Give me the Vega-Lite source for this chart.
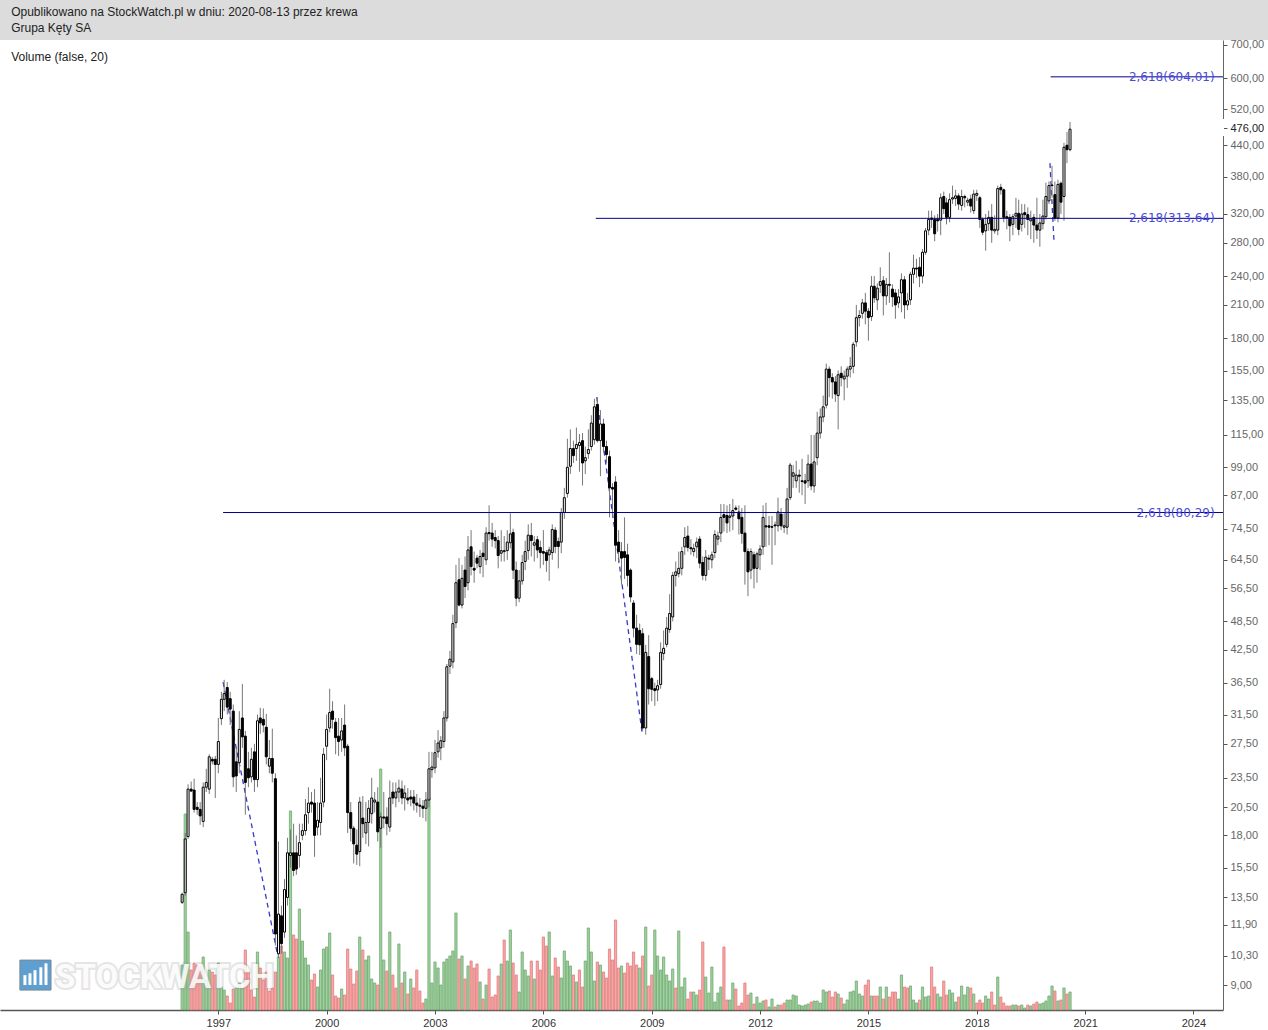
{"$schema":"https://vega.github.io/schema/vega-lite/v6.json","autosize":"none","width":1223,"height":970,"padding":{"left":0,"top":40,"right":45,"bottom":20},"background":"#ffffff","config":{"view":{"stroke":null},"font":"Liberation Sans"},
"data":{"format":{"parse":{"d":"date"}},"values":[
{"d":"1996-01-01","o":13.2,"h":13.8,"l":13.1,"c":13.7,"v":45,"k":"u"},{"d":"1996-02-01","o":13.8,"h":18.2,"l":13.6,"c":17.7,"v":196,"k":"u"},{"d":"1996-03-01","o":17.9,"h":22.8,"l":17.7,"c":22.3,"v":78,"k":"u"},{"d":"1996-04-01","o":22.3,"h":23.1,"l":22,"c":22.1,"v":40,"k":"d"},{"d":"1996-05-01","o":22.2,"h":23.4,"l":20,"c":20.3,"v":47,"k":"d"},{"d":"1996-06-01","o":20.5,"h":21,"l":19.8,"c":20.3,"v":45,"k":"d"},{"d":"1996-07-01","o":20.3,"h":21,"l":18.9,"c":19.7,"v":43,"k":"d"},{"d":"1996-08-01","o":19.2,"h":23,"l":18.7,"c":22.5,"v":53,"k":"u"},{"d":"1996-09-01","o":22.5,"h":24.5,"l":22,"c":23,"v":30,"k":"u"},{"d":"1996-10-01","o":22.3,"h":26.2,"l":21.8,"c":25.9,"v":40,"k":"u"},{"d":"1996-11-01","o":25.6,"h":25.9,"l":25,"c":25.4,"v":38,"k":"d"},{"d":"1996-12-01","o":25.6,"h":26,"l":21.4,"c":25,"v":35,"k":"d"},
{"d":"1997-01-01","o":25,"h":31,"l":24,"c":27.8,"v":47,"k":"u"},{"d":"1997-02-01","o":30.9,"h":35,"l":30,"c":33.8,"v":23,"k":"u"},{"d":"1997-03-01","o":33.8,"h":37,"l":32,"c":34.7,"v":20,"k":"u"},{"d":"1997-04-01","o":35.7,"h":36.6,"l":31.5,"c":32.6,"v":14,"k":"d"},{"d":"1997-05-01","o":33.9,"h":35,"l":30,"c":32.3,"v":7,"k":"d"},{"d":"1997-06-01","o":32,"h":33,"l":22.5,"c":23.6,"v":21,"k":"d"},{"d":"1997-07-01","o":25.3,"h":27,"l":22,"c":23.7,"v":22,"k":"u"},{"d":"1997-08-01","o":25.2,"h":32,"l":24,"c":29.4,"v":27,"k":"u"},{"d":"1997-09-01","o":31,"h":36.3,"l":27,"c":28.4,"v":22,"k":"u"},{"d":"1997-10-01","o":28.5,"h":29.2,"l":19.8,"c":23,"v":60,"k":"d"},{"d":"1997-11-01","o":24.5,"h":26.5,"l":22.5,"c":23.5,"v":38,"k":"d"},{"d":"1997-12-01","o":23.6,"h":27,"l":23,"c":25.6,"v":20,"k":"d"},
{"d":"1998-01-01","o":26.5,"h":27.5,"l":22,"c":23.3,"v":13,"k":"d"},{"d":"1998-02-01","o":23.3,"h":31.5,"l":22.5,"c":30.6,"v":58,"k":"u"},{"d":"1998-03-01","o":31,"h":32.5,"l":28.8,"c":30.3,"v":42,"k":"d"},{"d":"1998-04-01","o":30.8,"h":32.4,"l":29,"c":30,"v":30,"k":"d"},{"d":"1998-05-01","o":29.7,"h":31.6,"l":25,"c":25.9,"v":38,"k":"d"},{"d":"1998-06-01","o":24.8,"h":28,"l":24,"c":25.7,"v":19,"k":"d"},{"d":"1998-07-01","o":25.7,"h":29.5,"l":23,"c":24,"v":22,"k":"d"},{"d":"1998-08-01","o":23.4,"h":24,"l":10.8,"c":11.4,"v":38,"k":"d"},{"d":"1998-09-01","o":10.4,"h":17.5,"l":10.2,"c":12.5,"v":53,"k":"u"},{"d":"1998-10-01","o":12.4,"h":13,"l":10.4,"c":10.9,"v":64,"k":"d"},{"d":"1998-11-01","o":11.5,"h":14.7,"l":11.2,"c":14,"v":58,"k":"u"},{"d":"1998-12-01","o":13.5,"h":17.8,"l":13,"c":16.6,"v":52,"k":"u"},
{"d":"1999-01-01","o":16.4,"h":18.5,"l":15.5,"c":16.6,"v":199,"k":"u"},{"d":"1999-02-01","o":16.6,"h":19,"l":14.9,"c":15.3,"v":75,"k":"d"},{"d":"1999-03-01","o":16.6,"h":18,"l":15,"c":15.4,"v":71,"k":"d"},{"d":"1999-04-01","o":16.4,"h":19,"l":15.5,"c":17.4,"v":101,"k":"u"},{"d":"1999-05-01","o":18,"h":19,"l":17.6,"c":18.4,"v":69,"k":"u"},{"d":"1999-06-01","o":18.4,"h":21.3,"l":18,"c":19.8,"v":52,"k":"u"},{"d":"1999-07-01","o":20,"h":22.5,"l":19,"c":20.9,"v":45,"k":"u"},{"d":"1999-08-01","o":21,"h":22,"l":20,"c":20.8,"v":30,"k":"d"},{"d":"1999-09-01","o":20.9,"h":22.3,"l":16.3,"c":18,"v":36,"k":"d"},{"d":"1999-10-01","o":18.7,"h":21,"l":18,"c":19.3,"v":23,"k":"u"},{"d":"1999-11-01","o":19.1,"h":23.5,"l":18,"c":20.9,"v":40,"k":"u"},{"d":"1999-12-01","o":21,"h":27,"l":20.5,"c":26.2,"v":61,"k":"u"},
{"d":"2000-01-01","o":27.2,"h":31.5,"l":25.5,"c":29.4,"v":63,"k":"u"},{"d":"2000-02-01","o":29.6,"h":35.5,"l":29,"c":31.8,"v":77,"k":"u"},{"d":"2000-03-01","o":32,"h":33.5,"l":29.5,"c":30.8,"v":35,"k":"d"},{"d":"2000-04-01","o":30.4,"h":31,"l":26.2,"c":28.3,"v":14,"k":"d"},{"d":"2000-05-01","o":28.5,"h":31,"l":26,"c":27.8,"v":12,"k":"d"},{"d":"2000-06-01","o":28,"h":31,"l":26.5,"c":29.2,"v":21,"k":"u"},{"d":"2000-07-01","o":30,"h":33,"l":26,"c":27,"v":15,"k":"d"},{"d":"2000-08-01","o":27.2,"h":27.5,"l":18.2,"c":20,"v":61,"k":"d"},{"d":"2000-09-01","o":20,"h":21,"l":17.5,"c":18.6,"v":41,"k":"d"},{"d":"2000-10-01","o":18.6,"h":18.8,"l":15.8,"c":17.3,"v":26,"k":"d"},{"d":"2000-11-01","o":17.2,"h":18.5,"l":15.7,"c":16.5,"v":39,"k":"d"},{"d":"2000-12-01","o":16.7,"h":21.5,"l":15.6,"c":21,"v":73,"k":"u"},
{"d":"2001-01-01","o":19.5,"h":21.6,"l":17.8,"c":19,"v":60,"k":"d"},{"d":"2001-02-01","o":18.2,"h":21,"l":17.3,"c":19.1,"v":50,"k":"u"},{"d":"2001-03-01","o":19.1,"h":21.2,"l":17.1,"c":20.4,"v":54,"k":"u"},{"d":"2001-04-01","o":19.9,"h":23.5,"l":19,"c":21.4,"v":31,"k":"u"},{"d":"2001-05-01","o":21,"h":22,"l":20,"c":21.2,"v":27,"k":"u"},{"d":"2001-06-01","o":21,"h":22.5,"l":17.5,"c":18.3,"v":25,"k":"d"},{"d":"2001-07-01","o":18.6,"h":20,"l":17,"c":19.6,"v":241,"k":"u"},{"d":"2001-08-01","o":19.6,"h":22,"l":18.6,"c":19.5,"v":50,"k":"u"},{"d":"2001-09-01","o":19.6,"h":20.5,"l":18,"c":19,"v":39,"k":"d"},{"d":"2001-10-01","o":18.7,"h":23.2,"l":18.3,"c":21.4,"v":78,"k":"u"},{"d":"2001-11-01","o":22,"h":23,"l":20.8,"c":21.4,"v":35,"k":"d"},{"d":"2001-12-01","o":21.4,"h":23,"l":20.5,"c":22,"v":22,"k":"d"},
{"d":"2002-01-01","o":22,"h":23.3,"l":21,"c":22.4,"v":66,"k":"u"},{"d":"2002-02-01","o":22.3,"h":23.2,"l":20.8,"c":21.4,"v":27,"k":"d"},{"d":"2002-03-01","o":21.4,"h":22.7,"l":20.2,"c":21.9,"v":38,"k":"u"},{"d":"2002-04-01","o":21.4,"h":22.4,"l":20.8,"c":21.2,"v":16,"k":"d"},{"d":"2002-05-01","o":21.5,"h":22.2,"l":20.6,"c":21.3,"v":31,"k":"u"},{"d":"2002-06-01","o":21.5,"h":22.2,"l":20.2,"c":20.9,"v":22,"k":"d"},{"d":"2002-07-01","o":20.9,"h":21.8,"l":20,"c":20.7,"v":40,"k":"d"},{"d":"2002-08-01","o":20.7,"h":21.4,"l":19.6,"c":20.6,"v":19,"k":"d"},{"d":"2002-09-01","o":20.6,"h":21.2,"l":19.5,"c":20.4,"v":7,"k":"d"},{"d":"2002-10-01","o":20.4,"h":22,"l":19.2,"c":21.2,"v":11,"k":"u"},{"d":"2002-11-01","o":21.2,"h":26.5,"l":20.5,"c":24.5,"v":212,"k":"u"},{"d":"2002-12-01","o":24.4,"h":26.5,"l":23.5,"c":24.7,"v":27,"k":"u"},
{"d":"2003-01-01","o":24.6,"h":28,"l":24,"c":26.4,"v":48,"k":"u"},{"d":"2003-02-01","o":26.5,"h":29.3,"l":25.8,"c":27.6,"v":42,"k":"u"},{"d":"2003-03-01","o":27,"h":28.5,"l":25.5,"c":27.9,"v":25,"k":"u"},{"d":"2003-04-01","o":27.8,"h":32,"l":27,"c":31,"v":48,"k":"u"},{"d":"2003-05-01","o":31,"h":39.8,"l":30.5,"c":39.3,"v":51,"k":"u"},{"d":"2003-06-01","o":39.4,"h":42.3,"l":38,"c":40.7,"v":54,"k":"u"},{"d":"2003-07-01","o":40.2,"h":50,"l":39,"c":48,"v":59,"k":"u"},{"d":"2003-08-01","o":48.2,"h":63,"l":47,"c":58,"v":97,"k":"u"},{"d":"2003-09-01","o":58.8,"h":65,"l":52,"c":52.3,"v":51,"k":"d"},{"d":"2003-10-01","o":52.3,"h":63,"l":51.5,"c":59.2,"v":54,"k":"u"},{"d":"2003-11-01","o":61.5,"h":65.5,"l":54,"c":57,"v":31,"k":"d"},{"d":"2003-12-01","o":58,"h":72,"l":56,"c":67.5,"v":44,"k":"u"},
{"d":"2004-01-01","o":68.5,"h":74,"l":60,"c":62.5,"v":49,"k":"d"},{"d":"2004-02-01","o":62,"h":67,"l":58,"c":61.5,"v":42,"k":"d"},{"d":"2004-03-01","o":65,"h":66,"l":62,"c":63.5,"v":46,"k":"d"},{"d":"2004-04-01","o":62.5,"h":67.5,"l":60.5,"c":65.5,"v":28,"k":"u"},{"d":"2004-05-01","o":66.5,"h":70,"l":59.5,"c":65.5,"v":11,"k":"d"},{"d":"2004-06-01","o":64.5,"h":75,"l":63,"c":73,"v":25,"k":"u"},{"d":"2004-07-01","o":73.2,"h":83,"l":70.5,"c":72.8,"v":41,"k":"d"},{"d":"2004-08-01","o":73,"h":76.5,"l":68.5,"c":71,"v":13,"k":"d"},{"d":"2004-09-01","o":71.5,"h":74,"l":68,"c":70.5,"v":15,"k":"d"},{"d":"2004-10-01","o":70.5,"h":72,"l":62,"c":65.8,"v":34,"k":"d"},{"d":"2004-11-01","o":66.5,"h":74,"l":64,"c":67.3,"v":46,"k":"u"},{"d":"2004-12-01","o":67,"h":72,"l":64,"c":67.3,"v":70,"k":"d"},
{"d":"2005-01-01","o":67.3,"h":74,"l":64.5,"c":70,"v":49,"k":"u"},{"d":"2005-02-01","o":69.8,"h":80,"l":68,"c":72.7,"v":80,"k":"u"},{"d":"2005-03-01","o":73.2,"h":74.5,"l":59,"c":61.5,"v":47,"k":"d"},{"d":"2005-04-01","o":61.5,"h":64,"l":52,"c":54,"v":35,"k":"d"},{"d":"2005-05-01","o":54,"h":61.5,"l":53,"c":58.5,"v":18,"k":"u"},{"d":"2005-06-01","o":58.5,"h":66,"l":57.5,"c":63.7,"v":58,"k":"u"},{"d":"2005-07-01","o":64,"h":70.5,"l":61.5,"c":67,"v":40,"k":"u"},{"d":"2005-08-01","o":67.3,"h":76,"l":64.5,"c":72.3,"v":34,"k":"u"},{"d":"2005-09-01","o":72.2,"h":76.5,"l":65.5,"c":70.5,"v":49,"k":"d"},{"d":"2005-10-01","o":69,"h":72,"l":64,"c":69.8,"v":31,"k":"u"},{"d":"2005-11-01","o":70.8,"h":72,"l":65,"c":67.5,"v":49,"k":"d"},{"d":"2005-12-01","o":68.3,"h":70.5,"l":62,"c":66.7,"v":40,"k":"d"},
{"d":"2006-01-01","o":67,"h":74,"l":63,"c":66.5,"v":73,"k":"d"},{"d":"2006-02-01","o":66.7,"h":67.5,"l":61,"c":64.3,"v":64,"k":"d"},{"d":"2006-03-01","o":66,"h":68.5,"l":58.5,"c":67.5,"v":78,"k":"u"},{"d":"2006-04-01","o":66.7,"h":76,"l":64.5,"c":74.2,"v":34,"k":"u"},{"d":"2006-05-01","o":74,"h":75,"l":66.5,"c":68.6,"v":52,"k":"d"},{"d":"2006-06-01","o":70.2,"h":71.5,"l":62,"c":68.6,"v":43,"k":"d"},{"d":"2006-07-01","o":70,"h":82,"l":66.5,"c":80.3,"v":32,"k":"u"},{"d":"2006-08-01","o":80.3,"h":90,"l":78,"c":86,"v":59,"k":"u"},{"d":"2006-09-01","o":87.7,"h":113,"l":86,"c":99,"v":49,"k":"u"},{"d":"2006-10-01","o":99.5,"h":118,"l":96,"c":108,"v":44,"k":"u"},{"d":"2006-11-01","o":108,"h":112,"l":101,"c":104.5,"v":35,"k":"d"},{"d":"2006-12-01","o":108,"h":119,"l":102,"c":110,"v":28,"k":"u"},
{"d":"2007-01-01","o":109.5,"h":115.5,"l":97,"c":111,"v":40,"k":"d"},{"d":"2007-02-01","o":112,"h":116,"l":91,"c":101,"v":23,"k":"d"},{"d":"2007-03-01","o":102,"h":109,"l":96,"c":103.5,"v":49,"k":"u"},{"d":"2007-04-01","o":105.5,"h":118,"l":103,"c":107.5,"v":82,"k":"u"},{"d":"2007-05-01","o":109,"h":126,"l":107,"c":121.5,"v":58,"k":"u"},{"d":"2007-06-01","o":112.5,"h":136,"l":110,"c":131,"v":29,"k":"u"},{"d":"2007-07-01","o":132.5,"h":137,"l":111,"c":112,"v":48,"k":"d"},{"d":"2007-08-01","o":112,"h":129,"l":95,"c":121,"v":45,"k":"u"},{"d":"2007-09-01","o":121,"h":124,"l":106,"c":109,"v":38,"k":"d"},{"d":"2007-10-01","o":109,"h":112,"l":101,"c":105,"v":32,"k":"d"},{"d":"2007-11-01","o":104,"h":107,"l":78.5,"c":90,"v":61,"k":"d"},{"d":"2007-12-01","o":90.2,"h":92,"l":78.5,"c":89.5,"v":50,"k":"d"},
{"d":"2008-01-01","o":92.5,"h":95,"l":64,"c":69,"v":90,"k":"d"},{"d":"2008-02-01","o":70,"h":74,"l":63.5,"c":67,"v":42,"k":"d"},{"d":"2008-03-01","o":67,"h":70,"l":57.5,"c":65,"v":44,"k":"u"},{"d":"2008-04-01","o":67,"h":78.5,"l":59,"c":65.2,"v":37,"k":"d"},{"d":"2008-05-01","o":66,"h":69.5,"l":57,"c":60,"v":47,"k":"d"},{"d":"2008-06-01","o":61.5,"h":62,"l":53,"c":54.3,"v":44,"k":"d"},{"d":"2008-07-01","o":52.8,"h":53.5,"l":45,"c":47,"v":58,"k":"d"},{"d":"2008-08-01","o":47,"h":50,"l":41.7,"c":43.6,"v":45,"k":"d"},{"d":"2008-09-01","o":46.5,"h":48,"l":41.5,"c":43.5,"v":42,"k":"u"},{"d":"2008-10-01","o":45.8,"h":47,"l":29.2,"c":29.6,"v":54,"k":"d"},{"d":"2008-11-01","o":29.6,"h":43.5,"l":28.7,"c":42,"v":83,"k":"u"},{"d":"2008-12-01","o":41.2,"h":45.5,"l":33,"c":35.5,"v":24,"k":"d"},
{"d":"2009-01-01","o":37.2,"h":37.5,"l":33.5,"c":35.4,"v":35,"k":"d"},{"d":"2009-02-01","o":35.5,"h":36.5,"l":32.8,"c":35.2,"v":80,"k":"u"},{"d":"2009-03-01","o":35.3,"h":37,"l":33.5,"c":36,"v":54,"k":"u"},{"d":"2009-04-01","o":36.2,"h":44,"l":35.5,"c":42,"v":40,"k":"u"},{"d":"2009-05-01","o":41.8,"h":46.5,"l":40.5,"c":42.8,"v":53,"k":"u"},{"d":"2009-06-01","o":43.6,"h":49.5,"l":43,"c":47,"v":35,"k":"u"},{"d":"2009-07-01","o":46.7,"h":55,"l":46,"c":50.3,"v":29,"k":"u"},{"d":"2009-08-01","o":49.5,"h":61,"l":48.5,"c":60,"v":41,"k":"u"},{"d":"2009-09-01","o":60,"h":64,"l":57,"c":61,"v":22,"k":"d"},{"d":"2009-10-01","o":60.5,"h":67,"l":59.5,"c":62,"v":79,"k":"u"},{"d":"2009-11-01","o":62,"h":68.5,"l":60,"c":67,"v":23,"k":"u"},{"d":"2009-12-01","o":68.5,"h":75,"l":66,"c":71.5,"v":32,"k":"u"},
{"d":"2010-01-01","o":72,"h":75.5,"l":67,"c":68.3,"v":11,"k":"d"},{"d":"2010-02-01","o":68.2,"h":71,"l":66,"c":67.9,"v":18,"k":"d"},{"d":"2010-03-01","o":67,"h":69.5,"l":65.5,"c":68,"v":18,"k":"u"},{"d":"2010-04-01","o":68.5,"h":71.5,"l":65,"c":70,"v":15,"k":"u"},{"d":"2010-05-01","o":71,"h":72,"l":62,"c":63.5,"v":20,"k":"d"},{"d":"2010-06-01","o":63.7,"h":65.5,"l":58.7,"c":60,"v":68,"k":"d"},{"d":"2010-07-01","o":60,"h":67.5,"l":58.5,"c":65.3,"v":33,"k":"u"},{"d":"2010-08-01","o":65,"h":66,"l":61.5,"c":64.7,"v":17,"k":"u"},{"d":"2010-09-01","o":64.5,"h":67,"l":62,"c":66,"v":43,"k":"u"},{"d":"2010-10-01","o":66.7,"h":74,"l":65,"c":72.5,"v":8,"k":"u"},{"d":"2010-11-01","o":71,"h":73.5,"l":69,"c":72,"v":17,"k":"u"},{"d":"2010-12-01","o":73,"h":83.5,"l":70,"c":78.5,"v":23,"k":"u"},
{"d":"2011-01-01","o":79.5,"h":83.5,"l":73.5,"c":78.5,"v":63,"k":"d"},{"d":"2011-02-01","o":79.2,"h":83,"l":73,"c":76.5,"v":10,"k":"d"},{"d":"2011-03-01","o":78.5,"h":83.5,"l":73.5,"c":79,"v":10,"k":"u"},{"d":"2011-04-01","o":79,"h":85.5,"l":74,"c":81,"v":27,"k":"u"},{"d":"2011-05-01","o":82,"h":83,"l":81,"c":81.5,"v":21,"k":"d"},{"d":"2011-06-01","o":80.5,"h":83,"l":72.5,"c":78,"v":4,"k":"d"},{"d":"2011-07-01","o":78.5,"h":82,"l":69.5,"c":72.9,"v":7,"k":"d"},{"d":"2011-08-01","o":73,"h":83,"l":57.5,"c":67,"v":27,"k":"d"},{"d":"2011-09-01","o":67,"h":68,"l":54.5,"c":61,"v":15,"k":"d"},{"d":"2011-10-01","o":61.5,"h":68,"l":59,"c":67,"v":17,"k":"u"},{"d":"2011-11-01","o":66,"h":67,"l":56.5,"c":62,"v":6,"k":"d"},{"d":"2011-12-01","o":62,"h":67,"l":58,"c":66.3,"v":13,"k":"u"},
{"d":"2012-01-01","o":66,"h":69,"l":61.5,"c":67.8,"v":7,"k":"u"},{"d":"2012-02-01","o":68.5,"h":83,"l":66,"c":78.5,"v":9,"k":"u"},{"d":"2012-03-01","o":75.5,"h":84,"l":68.5,"c":75.1,"v":10,"k":"d"},{"d":"2012-04-01","o":75.5,"h":79,"l":69,"c":75,"v":3,"k":"u"},{"d":"2012-05-01","o":75.2,"h":79,"l":63,"c":75,"v":11,"k":"u"},{"d":"2012-06-01","o":75.8,"h":77,"l":69,"c":75.5,"v":3,"k":"d"},{"d":"2012-07-01","o":75.5,"h":86,"l":73.5,"c":80.5,"v":5,"k":"u"},{"d":"2012-08-01","o":79.7,"h":82,"l":74,"c":75.5,"v":5,"k":"d"},{"d":"2012-09-01","o":75,"h":80,"l":73,"c":75.5,"v":7,"k":"d"},{"d":"2012-10-01","o":75,"h":90,"l":72.5,"c":85.5,"v":10,"k":"u"},{"d":"2012-11-01","o":86,"h":101,"l":85,"c":100,"v":10,"k":"u"},{"d":"2012-12-01","o":95,"h":100,"l":90,"c":96.5,"v":15,"k":"u"},
{"d":"2013-01-01","o":93,"h":102,"l":90,"c":95.5,"v":14,"k":"u"},{"d":"2013-02-01","o":95.5,"h":98,"l":88,"c":95,"v":5,"k":"u"},{"d":"2013-03-01","o":93,"h":103,"l":87,"c":92.7,"v":4,"k":"u"},{"d":"2013-04-01","o":93,"h":96,"l":83.5,"c":92,"v":5,"k":"u"},{"d":"2013-05-01","o":93,"h":105,"l":90,"c":100.5,"v":6,"k":"u"},{"d":"2013-06-01","o":100.5,"h":115,"l":89,"c":90.8,"v":8,"k":"d"},{"d":"2013-07-01","o":90.8,"h":115,"l":88,"c":101.5,"v":9,"k":"u"},{"d":"2013-08-01","o":103.5,"h":128,"l":100,"c":116,"v":9,"k":"u"},{"d":"2013-09-01","o":116,"h":130,"l":113,"c":125,"v":7,"k":"u"},{"d":"2013-10-01","o":125,"h":138,"l":122,"c":131,"v":20,"k":"u"},{"d":"2013-11-01","o":132,"h":160,"l":130,"c":156,"v":18,"k":"u"},{"d":"2013-12-01","o":156,"h":158,"l":137,"c":150,"v":19,"k":"d"},
{"d":"2014-01-01","o":150,"h":153,"l":136,"c":147,"v":13,"k":"d"},{"d":"2014-02-01","o":147,"h":151,"l":134,"c":139,"v":18,"k":"d"},{"d":"2014-03-01","o":138,"h":155,"l":118,"c":152,"v":16,"k":"u"},{"d":"2014-04-01","o":153,"h":158,"l":144,"c":150,"v":12,"k":"d"},{"d":"2014-05-01","o":149,"h":155,"l":135,"c":151,"v":6,"k":"u"},{"d":"2014-06-01","o":151,"h":158,"l":143,"c":156,"v":10,"k":"u"},{"d":"2014-07-01","o":156,"h":165,"l":150,"c":158,"v":18,"k":"u"},{"d":"2014-08-01","o":158,"h":177,"l":153,"c":175,"v":19,"k":"u"},{"d":"2014-09-01","o":177,"h":210,"l":173,"c":198,"v":29,"k":"u"},{"d":"2014-10-01","o":198,"h":205,"l":190,"c":200,"v":16,"k":"u"},{"d":"2014-11-01","o":202,"h":216,"l":197,"c":212,"v":14,"k":"u"},{"d":"2014-12-01","o":212,"h":222,"l":192,"c":204,"v":25,"k":"d"},
{"d":"2015-01-01","o":204,"h":207,"l":178,"c":198,"v":30,"k":"d"},{"d":"2015-02-01","o":199,"h":240,"l":195,"c":229,"v":14,"k":"u"},{"d":"2015-03-01","o":229,"h":240,"l":212,"c":217,"v":14,"k":"d"},{"d":"2015-04-01","o":215,"h":232,"l":205,"c":227,"v":14,"k":"d"},{"d":"2015-05-01","o":230,"h":250,"l":222,"c":234,"v":23,"k":"u"},{"d":"2015-06-01","o":235,"h":240,"l":200,"c":219,"v":11,"k":"d"},{"d":"2015-07-01","o":219,"h":238,"l":210,"c":231,"v":23,"k":"u"},{"d":"2015-08-01","o":231,"h":268,"l":212,"c":230,"v":13,"k":"d"},{"d":"2015-09-01","o":226,"h":231,"l":208,"c":218,"v":18,"k":"d"},{"d":"2015-10-01","o":222,"h":226,"l":197,"c":210,"v":18,"k":"d"},{"d":"2015-11-01","o":212,"h":226,"l":207,"c":218,"v":11,"k":"u"},{"d":"2015-12-01","o":222,"h":243,"l":203,"c":236,"v":35,"k":"u"},
{"d":"2016-01-01","o":236,"h":240,"l":197,"c":210,"v":23,"k":"d"},{"d":"2016-02-01","o":210,"h":222,"l":205,"c":214,"v":22,"k":"d"},{"d":"2016-03-01","o":215,"h":245,"l":210,"c":242,"v":24,"k":"u"},{"d":"2016-04-01","o":242,"h":265,"l":232,"c":249,"v":10,"k":"u"},{"d":"2016-05-01","o":249,"h":260,"l":238,"c":248,"v":7,"k":"u"},{"d":"2016-06-01","o":250,"h":262,"l":228,"c":240,"v":10,"k":"d"},{"d":"2016-07-01","o":240,"h":272,"l":232,"c":268,"v":23,"k":"u"},{"d":"2016-08-01","o":268,"h":300,"l":265,"c":296,"v":13,"k":"u"},{"d":"2016-09-01","o":297,"h":325,"l":290,"c":312,"v":14,"k":"u"},{"d":"2016-10-01","o":314,"h":325,"l":300,"c":312,"v":43,"k":"d"},{"d":"2016-11-01","o":312,"h":318,"l":282,"c":292,"v":23,"k":"d"},{"d":"2016-12-01","o":312,"h":320,"l":295,"c":310,"v":16,"k":"u"},
{"d":"2017-01-01","o":311,"h":352,"l":290,"c":345,"v":13,"k":"u"},{"d":"2017-02-01","o":347,"h":355,"l":320,"c":328,"v":29,"k":"d"},{"d":"2017-03-01","o":337,"h":345,"l":305,"c":315,"v":15,"k":"d"},{"d":"2017-04-01","o":315,"h":352,"l":308,"c":342,"v":20,"k":"u"},{"d":"2017-05-01","o":343,"h":365,"l":335,"c":345,"v":17,"k":"u"},{"d":"2017-06-01","o":344,"h":358,"l":332,"c":348,"v":8,"k":"u"},{"d":"2017-07-01","o":348,"h":352,"l":326,"c":335,"v":13,"k":"d"},{"d":"2017-08-01","o":333,"h":358,"l":325,"c":347,"v":24,"k":"u"},{"d":"2017-09-01","o":347,"h":350,"l":330,"c":345,"v":15,"k":"u"},{"d":"2017-10-01","o":338,"h":345,"l":332,"c":341,"v":23,"k":"u"},{"d":"2017-11-01","o":343,"h":350,"l":322,"c":332,"v":22,"k":"d"},{"d":"2017-12-01","o":325,"h":358,"l":320,"c":351,"v":16,"k":"u"},
{"d":"2018-01-01","o":349,"h":358,"l":340,"c":352,"v":7,"k":"d"},{"d":"2018-02-01","o":345,"h":348,"l":300,"c":312,"v":10,"k":"d"},{"d":"2018-03-01","o":312,"h":315,"l":290,"c":294,"v":7,"k":"d"},{"d":"2018-04-01","o":296,"h":320,"l":270,"c":305,"v":14,"k":"u"},{"d":"2018-05-01","o":306,"h":325,"l":296,"c":315,"v":11,"k":"u"},{"d":"2018-06-01","o":315,"h":335,"l":280,"c":297,"v":18,"k":"d"},{"d":"2018-07-01","o":296,"h":318,"l":292,"c":298,"v":5,"k":"d"},{"d":"2018-08-01","o":297,"h":365,"l":290,"c":360,"v":33,"k":"u"},{"d":"2018-09-01","o":362,"h":368,"l":350,"c":358,"v":13,"k":"d"},{"d":"2018-10-01","o":358,"h":360,"l":308,"c":315,"v":7,"k":"d"},{"d":"2018-11-01","o":316,"h":325,"l":298,"c":314,"v":4,"k":"d"},{"d":"2018-12-01","o":315,"h":320,"l":282,"c":303,"v":4,"k":"d"},
{"d":"2019-01-01","o":305,"h":320,"l":290,"c":316,"v":5,"k":"u"},{"d":"2019-02-01","o":317,"h":345,"l":300,"c":321,"v":5,"k":"u"},{"d":"2019-03-01","o":321,"h":342,"l":290,"c":298,"v":4,"k":"d"},{"d":"2019-04-01","o":305,"h":335,"l":295,"c":320,"v":5,"k":"u"},{"d":"2019-05-01","o":322,"h":335,"l":300,"c":319,"v":2,"k":"u"},{"d":"2019-06-01","o":319,"h":330,"l":290,"c":312,"v":5,"k":"d"},{"d":"2019-07-01","o":310,"h":325,"l":285,"c":313,"v":4,"k":"u"},{"d":"2019-08-01","o":315,"h":320,"l":280,"c":304,"v":6,"k":"d"},{"d":"2019-09-01","o":304,"h":345,"l":285,"c":297,"v":8,"k":"d"},{"d":"2019-10-01","o":297,"h":320,"l":275,"c":307,"v":6,"k":"u"},{"d":"2019-11-01","o":306,"h":342,"l":298,"c":317,"v":7,"k":"u"},{"d":"2019-12-01","o":316,"h":370,"l":312,"c":347,"v":9,"k":"u"},
{"d":"2020-01-01","o":340,"h":372,"l":335,"c":365,"v":14,"k":"u"},{"d":"2020-02-01","o":366,"h":400,"l":345,"c":365,"v":24,"k":"u"},{"d":"2020-03-01","o":350,"h":372,"l":310,"c":314,"v":19,"k":"d"},{"d":"2020-04-01","o":314,"h":375,"l":308,"c":367,"v":9,"k":"u"},{"d":"2020-05-01","o":369,"h":372,"l":320,"c":338,"v":10,"k":"d"},{"d":"2020-06-01","o":347,"h":445,"l":310,"c":436,"v":22,"k":"u"},{"d":"2020-07-01","o":440,"h":468,"l":405,"c":431,"v":16,"k":"d"},{"d":"2020-08-01","o":431,"h":490,"l":428,"c":474,"v":18,"k":"u"}
]},
"encoding":{"x":{"field":"d","type":"temporal","title":null,"scale":{"type":"utc","padding":0,"domain":[{"year":1990,"month":12,"date":16,"utc":true},{"year":2024,"month":10,"date":26,"utc":true}],"nice":false},"axis":{"values":[{"year":1997,"utc":true},{"year":2000,"utc":true},{"year":2003,"utc":true},{"year":2006,"utc":true},{"year":2009,"utc":true},{"year":2012,"utc":true},{"year":2015,"utc":true},{"year":2018,"utc":true},{"year":2021,"utc":true},{"year":2024,"utc":true}],"format":"%Y","grid":false,"labelFont":"Liberation Sans","labelFontSize":11,"labelColor":"#333333","labelPadding":3,"tickSize":4,"tickColor":"#555555","domainColor":"#555555","domainWidth":1.5,"labelOverlap":false,"labelFlush":false}}},
"layer":[
{"mark":{"type":"bar","size":2.2,"strokeWidth":0.8,"opacity":0.9},"encoding":{"y":{"field":"v","type":"quantitative","stack":null,"scale":{"domain":[0,970],"nice":false},"axis":null},"color":{"field":"k","type":"nominal","scale":{"domain":["u","d"],"range":["#93cf93","#ff9a9a"]},"legend":null},"stroke":{"field":"k","type":"nominal","scale":{"domain":["u","d"],"range":["#649f64","#d87474"]},"legend":null}}},
{"layer":[
{"data":{"format":{"parse":{"d":"date","d2":"date"}},"values":[{"d":"1990-12-16","d2":"2026-01-25","p":716.4,"p2":863}]},"mark":{"type":"rect","color":"#dcdcdc"},"encoding":{"x2":{"field":"d2"},"y":{"field":"p","type":"quantitative","scale":{"type":"log","domain":[8.016,716.4],"nice":false,"zero":false},"axis":{"orient":"right","title":null,"grid":false,"values":[700,600,520,476,440,380,320,280,240,210,180,155,135,115,99,87,74.5,64.5,56.5,48.5,42.5,36.5,31.5,27.5,23.5,20.5,18,15.5,13.5,11.9,10.3,9],"labelExpr":"replace(format(datum.value,'.2f'),'.',',')","labelFont":"Liberation Sans","labelFontSize":11,"labelColor":{"condition":{"test":"datum.value==476","value":"#222222"},"value":"#666666"},"labelPadding":3,"labelOverlap":false,"labelFlush":false,"tickSize":4,"tickColor":"#555555","domainColor":"#666666","domainWidth":1}},"y2":{"field":"p2"}}},
{"data":{"format":{"parse":{"d":"date"}},"values":[{"d":"1991-04-08","p":815.6,"t":"Opublikowano na StockWatch.pl w dniu: 2020-08-13 przez krewa"},{"d":"1991-04-08","p":757,"t":"Grupa Kęty SA"},{"d":"1991-04-08","p":662,"t":"Volume (false, 20)"}]},"mark":{"type":"text","align":"left","baseline":"middle","font":"Liberation Sans","fontSize":12,"color":"#222222"},"encoding":{"y":{"field":"p","type":"quantitative"},"text":{"field":"t"}}},
{"data":{"format":{"parse":{"d":"date"}},"values":[{"d":"1992-06-25","p":8.87,"t":"STOCKWATCH"}]},"mark":{"type":"text","align":"left","baseline":"alphabetic","font":"Roboto","fontWeight":"bold","fontSize":33,"color":"#999999","stroke":"#999999","strokeWidth":4,"opacity":0.25},"encoding":{"y":{"field":"p","type":"quantitative"},"text":{"field":"t"}}},
{"data":{"format":{"parse":{"d":"date"}},"values":[{"d":"1992-06-25","p":8.87,"t":"STOCKWATCH"}]},"mark":{"type":"text","align":"left","baseline":"alphabetic","font":"Roboto","fontWeight":"bold","fontSize":33,"color":"#ffffff","opacity":0.85},"encoding":{"y":{"field":"p","type":"quantitative"},"text":{"field":"t"}}},
{"data":{"format":{"parse":{"d":"date","d2":"date"}},"values":[{"d":"1991-07-05","d2":"1992-05-15","p":8.79,"p2":10.1}]},"mark":{"type":"rect","color":"#5f9fd0","stroke":"#7a8a96","strokeWidth":1},"encoding":{"x2":{"field":"d2"},"y":{"field":"p","type":"quantitative"},"y2":{"field":"p2"}}},
{"data":{"format":{"parse":{"d":"date"}},"values":[{"d":"1991-08-25","p":9.0,"p2":9.42},{"d":"1991-10-15","p":9.0,"p2":9.5},{"d":"1991-12-05","p":9.0,"p2":9.64},{"d":"1992-02-02","p":9.0,"p2":9.77},{"d":"1992-03-25","p":9.0,"p2":9.95}]},"mark":{"type":"rule","color":"#ffffff","strokeWidth":3},"encoding":{"y":{"field":"p","type":"quantitative"},"y2":{"field":"p2"}}},
{"data":{"format":{"parse":{"d":"date"}},"values":[{"d":"1997-02-18","p":36.6,"g":"a"},{"d":"1998-08-25","p":10.3,"g":"a"},{"d":"2007-06-25","p":137,"g":"b"},{"d":"2008-09-24","p":29.1,"g":"b"},{"d":"2020-01-11","p":405,"g":"c"},{"d":"2020-02-20","p":284,"g":"c"}]},"mark":{"type":"line","color":"#3a3ac8","strokeWidth":1.3,"strokeDash":[5,4]},"encoding":{"y":{"field":"p","type":"quantitative"},"detail":{"field":"g"}}},
{"mark":{"type":"rule","color":"#777777","strokeWidth":1},"encoding":{"y":{"field":"l","type":"quantitative"},"y2":{"field":"h"}}},
{"mark":{"type":"bar","size":2,"stroke":"#000000","strokeWidth":1},"encoding":{"y":{"field":"o","type":"quantitative"},"y2":{"field":"c"},"fill":{"condition":{"test":"datum.c>=datum.o","value":"#ffffff"},"value":"#000000"}}},
{"data":{"format":{"parse":{"d":"date"}},"values":[{"d":"2024-10-26","p":459,"p2":497}]},"mark":{"type":"rule","color":"#ffffff","strokeWidth":2},"encoding":{"y":{"field":"p","type":"quantitative"},"y2":{"field":"p2"}}},
{"data":{"format":{"parse":{"d":"date","d2":"date"}},"values":[{"d":"1997-02-18","d2":"2024-10-26","p":80.29,"t":"2,618(80,29)"},{"d":"2007-06-15","d2":"2024-10-26","p":313.64,"t":"2,618(313,64)"},{"d":"2020-01-18","d2":"2024-10-26","p":604.01,"t":"2,618(604,01)"}]},"mark":{"type":"rule","color":"#00008b","strokeWidth":1},"encoding":{"x2":{"field":"d2"},"y":{"field":"p","type":"quantitative"}}},
{"data":{"format":{"parse":{"d":"date"}},"values":[{"d":"2024-08-02","p":80.29,"t":"2,618(80,29)"},{"d":"2024-08-02","p":313.64,"t":"2,618(313,64)"},{"d":"2024-08-02","p":604.01,"t":"2,618(604,01)"}]},"mark":{"type":"text","align":"right","baseline":"middle","font":"DejaVu Sans","fontSize":12,"color":"#4a4ad8"},"encoding":{"y":{"field":"p","type":"quantitative"},"text":{"field":"t"}}}
]}
],
"resolve":{"scale":{"y":"independent"}}}
